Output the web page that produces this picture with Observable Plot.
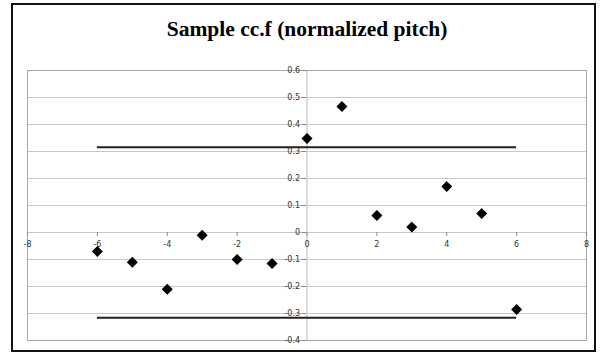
<!DOCTYPE html>
<html><head><meta charset="utf-8">
<script src="https://cdn.jsdelivr.net/npm/d3@7"></script>
<script src="https://cdn.jsdelivr.net/npm/@observablehq/plot@0.6"></script>
<style>
body{margin:0;background:#fff}
#wrap{position:relative;width:604px;height:356px}
#border{position:absolute;left:11px;top:3px;width:585px;height:349px;border:2px solid #111;pointer-events:none;box-sizing:border-box}
</style>
</head><body><div id="wrap"><div id="chart"></div><div id="border"></div></div>
<script>
const title = "Sample cc.f (normalized pitch)";
const lags = [-6, -5, -4, -3, -2, -1, 0, 1, 2, 3, 4, 5, 6];
const ccf = [-0.07, -0.11, -0.21, -0.01, -0.10, -0.115, 0.348, 0.467, 0.063, 0.02, 0.17, 0.07, -0.285];
const bound = 0.316;
const xTicks = [-8, -6, -4, -2, 0, 2, 4, 6, 8];
const yTicks = [-0.4, -0.3, -0.2, -0.1, 0, 0.1, 0.2, 0.3, 0.4, 0.5, 0.6];

const points = lags.map((l, i) => ({lag: l, v: ccf[i]}));
const lo = d3.min(lags), hi = d3.max(lags);
const bounds = [{x1: lo, x2: hi, y: bound}, {x1: lo, x2: hi, y: -bound}];
const fmt = d => String(+d.toFixed(1));
const tickFont = {fontFamily: "DejaVu Sans", fontSize: 8, fill: "#333"};

const chart = Plot.plot({
  width: 604, height: 356,
  marginLeft: 27, marginRight: 18, marginTop: 70, marginBottom: 16,
  x: {domain: [-8, 8], axis: null},
  y: {domain: [-0.4, 0.6], axis: null},
  style: {background: "#fff"},
  marks: [
    Plot.ruleY(yTicks, {stroke: "#c8c8c8", strokeWidth: 1}),
    Plot.ruleX([0], {stroke: "#dcdcdc", strokeWidth: 2}),
    Plot.frame({stroke: "#a8a8a8"}),
    Plot.ruleY(yTicks, {x1: 0, x2: 0, insetLeft: -5, stroke: "#888"}),
    Plot.ruleX(xTicks, {y1: 0, y2: 0, insetBottom: -4, stroke: "#888"}),
    Plot.text(yTicks, {x: 0, y: d => d, text: fmt, textAnchor: "end", dx: -7, ...tickFont}),
    Plot.text(xTicks, {x: d => d, y: 0, text: fmt, dy: 12, ...tickFont}),
    Plot.ruleY(bounds, {x1: "x1", x2: "x2", y: "y", stroke: "#222", strokeWidth: 2}),
    Plot.dot(points, {x: "lag", y: "v", symbol: "diamond2", r: 4, fill: "#000", stroke: "#000"}),
    Plot.text([title], {frameAnchor: "top", dy: -50, text: d => d, fontFamily: "Liberation Serif", fontWeight: "bold", fontSize: 21.5, fill: "#000"})
  ]
});
document.getElementById("chart").append(chart);
</script>
</body></html>
